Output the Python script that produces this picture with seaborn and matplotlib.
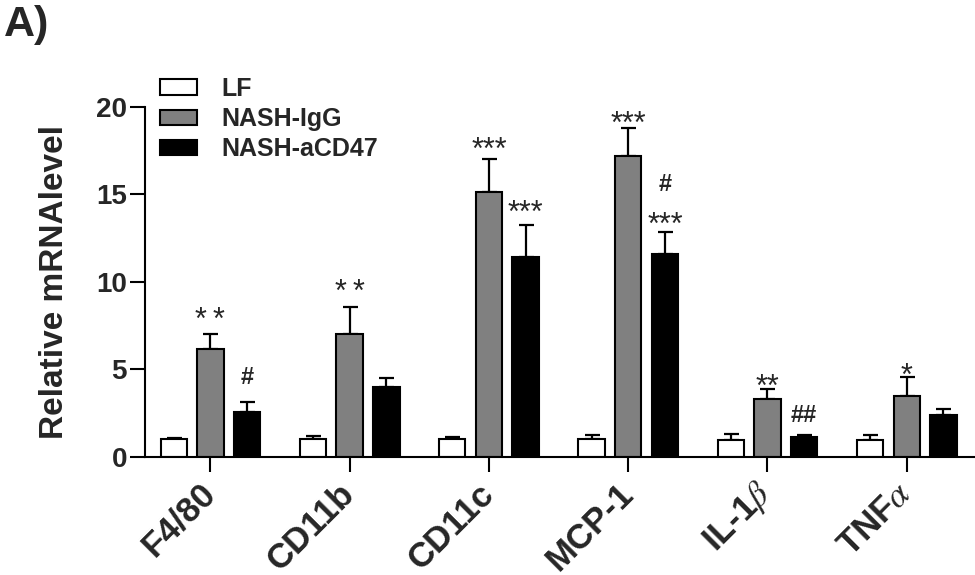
import numpy as np
import pandas as pd
import matplotlib
matplotlib.use("Agg")
import matplotlib.pyplot as plt
from matplotlib.patches import Patch
import seaborn as sns

# categories and groups
genes = ["F4/80", "CD11b", "CD11c", "MCP-1", "IL-1$\\beta$", "TNF$\\alpha$"]
groups = ["LF", "NASH-IgG", "NASH-aCD47"]
colors = ["#FFFFFF", "#808080", "#000000"]

# means and upper SEM
lf_mean = [0.99, 1.00, 0.99, 1.00, 0.97, 0.95]
lf_err = [0.10, 0.20, 0.13, 0.24, 0.31, 0.31]
igg_mean = [6.14, 6.99, 15.10, 17.17, 3.28, 3.49]
igg_err = [0.87, 1.55, 1.90, 1.63, 0.57, 1.06]
acd47_mean = [2.57, 3.98, 11.43, 11.56, 1.11, 2.36]
acd47_err = [0.57, 0.50, 1.80, 1.26, 0.15, 0.37]

# significance marks: text, gene index, group index, y (glyph centre)
ann_text = ["*\u2009*", "#", "*\u2009*", "***", "***", "***", "#", "***", "**", "##", "*"]
ann_gene = [0, 0, 1, 2, 2, 3, 3, 3, 4, 4, 5]
ann_group = [1, 2, 1, 1, 2, 1, 2, 2, 1, 2, 1]
ann_y = [8.33, 4.64, 9.91, 18.04, 14.45, 19.53, 15.70, 13.75, 4.48, 2.50, 5.14]


def main():
    df = pd.DataFrame({
        "gene": genes * 3,
        "group": np.repeat(groups, len(genes)),
        "value": lf_mean + igg_mean + acd47_mean,
    })
    errs = [lf_err, igg_err, acd47_err]

    sns.set_style("ticks")
    plt.rcParams["font.family"] = ["Liberation Sans", "DejaVu Sans"]
    plt.rcParams["mathtext.fontset"] = "stix"

    fig = plt.figure(figsize=(9.75, 5.75), dpi=100)
    ax = fig.add_axes([0.1487, 0.2057, 0.8513, 0.6087])

    sns.barplot(
        data=df, x="gene", y="value", hue="group",
        order=genes, hue_order=groups, palette=colors,
        saturation=1, edgecolor="black", linewidth=1.5,
        width=0.79, gap=0.28, errorbar=None, legend=False, ax=ax,
    )

    # upper error bars only
    centers = []
    for cont, err in zip(ax.containers, errs):
        xs = []
        for bar, e in zip(cont, err):
            x = bar.get_x() + bar.get_width() / 2
            xs.append(x)
            ax.errorbar(x, bar.get_height(), yerr=[[0], [e]], fmt="none",
                        ecolor="black", elinewidth=1.6, capsize=5.4,
                        capthick=1.6, clip_on=False, zorder=0.5)
        centers.append(xs)

    for txt, g, s, y in zip(ann_text, ann_gene, ann_group, ann_y):
        x = centers[s][g]
        if "*" in txt:
            ax.annotate(txt, (x, y), xytext=(0, -0.32 * 22), textcoords="offset points",
                        ha="center", va="center", fontsize=22, annotation_clip=False)
        else:
            ax.annotate(txt, (x, y), xytext=(0, -0.1 * 17), textcoords="offset points",
                        ha="center", va="center", fontsize=17, fontweight="bold",
                        annotation_clip=False)

    ax.set_ylim(0, 20)
    ax.set_xlim(-0.47, 5.49)
    ax.set_yticks([0, 5, 10, 15, 20])
    ax.set_xlabel("")
    ax.set_ylabel("Relative mRNAlevel", fontsize=24, fontweight="bold")
    ax.yaxis.set_label_coords(-0.09, 0.5)

    sns.despine(ax=ax)
    for side in ["left", "bottom"]:
        ax.spines[side].set_linewidth(1.5)
        ax.spines[side].set_color("black")
    ax.tick_params(axis="both", length=10.8, width=1.5, color="black")
    ax.tick_params(axis="y", pad=2.2, labelsize=20)
    ax.tick_params(axis="x", pad=12.2)
    for lab in ax.get_yticklabels():
        lab.set_fontweight("bold")
    ax.set_xticks(range(len(genes)))
    ax.set_xticklabels(genes, rotation=45, ha="right", va="center",
                       rotation_mode="anchor", fontsize=25, fontweight="bold")

    handles = [Patch(facecolor=c, edgecolor="black", linewidth=1.5, label=g)
               for c, g in zip(colors, groups)]
    ax.legend(handles=handles, loc="upper left", bbox_to_anchor=(0.164, 1 - 77 / 575),
              bbox_transform=fig.transFigure, frameon=False,
              prop={"size": 18, "weight": "bold"}, handlelength=1.5,
              handleheight=0.57, handletextpad=0.95, labelspacing=0.25,
              borderaxespad=0, borderpad=0)

    fig.text(0.004, 1 - 36 / 575, "A)", fontsize=31, fontweight="bold", va="baseline")

    fig.savefig("out.png", dpi=100)
    plt.close(fig)


if __name__ == "__main__":
    main()
